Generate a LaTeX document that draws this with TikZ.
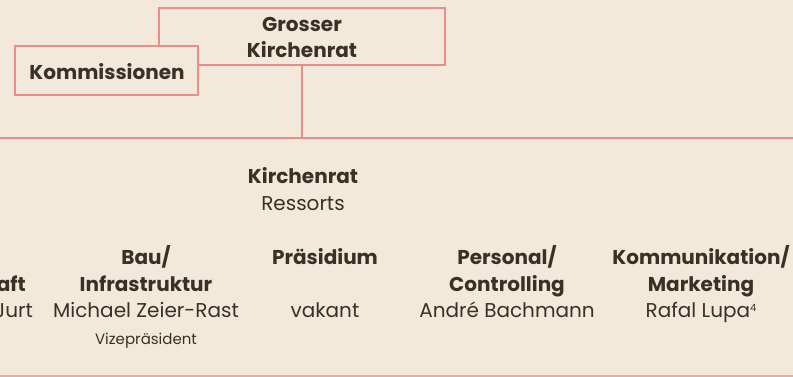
\documentclass[tikz,border=0pt]{standalone}
\usepackage{fontspec}
\setmainfont{Poppins}
\definecolor{bg}{HTML}{F3E9DA}
\definecolor{pinkline}{HTML}{EE8C8C}
\definecolor{ink}{HTML}{3B2F26}
\tikzset{
  hd/.style={anchor=base, inner sep=0pt, text=ink, font=\fontsize{20}{24}\selectfont\bfseries},
  nm/.style={anchor=base, inner sep=0pt, text=ink, font=\fontsize{20}{24}\selectfont},
  sm/.style={anchor=base, inner sep=0pt, text=ink, font=\fontsize{15}{18}\selectfont},
  ln/.style={draw=pinkline, line width=2.6pt},
}
\newcommand{\supfour}{\raisebox{6pt}{\fontsize{10}{12}\selectfont 4}}
\begin{document}
\begin{tikzpicture}[x=1pt, y=-1pt]
\fill[bg] (0,0) rectangle (793,376);
\useasboundingbox (0,0) rectangle (793,376);
% boxes
\node[ln, minimum width=286pt, minimum height=57pt, inner sep=0pt] (gkr) at (302,36.5) {};
\node[ln, fill=bg, minimum width=183pt, minimum height=49pt, inner sep=0pt] (kom) at (106.5,70.5) {};
\node[hd] (gkrA) at (302,31) {Grosser};
\node[hd] (gkrB) at (302,57) {Kirchenrat};
\node[hd] (komT) at (107,79) {Kommissionen};
% connectors
\coordinate (bar) at (302,138);
\coordinate (barL) at (0,138);
\coordinate (barR) at (793,138);
\coordinate (botL) at (0,376);
\coordinate (botR) at (793,376);
\draw[ln] (gkr.south) -- (bar);
\draw[ln] (barL) -- (barR);
\draw[draw=pinkline!70!bg, line width=2pt] (botL) -- (botR);
% Kirchenrat Ressorts
\node[hd] (kr) at (303,183) {Kirchenrat};
\node[nm] (res) at (303,210) {Ressorts};
% left cut column
\node[hd, anchor=base east] (c0a) at (26,291) {aft};
\node[nm, anchor=base east] (c0b) at (33,317) {Jurt};
% Bau
\node[hd] (c1a) at (146,264) {Bau/};
\node[hd] (c1b) at (146,291) {Infrastruktur};
\node[nm] (c1c) at (146,317) {Michael Zeier-Rast};
\node[sm] (c1d) at (146,344) {Vizepräsident};
% Praesidium
\node[hd] (c2a) at (325,264) {Präsidium};
\node[nm] (c2c) at (325,317) {vakant};
% Personal
\node[hd] (c3a) at (507,264) {Personal/};
\node[hd] (c3b) at (507,291) {Controlling};
\node[nm] (c3c) at (507,317) {André Bachmann};
% Kommunikation
\node[hd] (c4a) at (701,264) {Kommunikation/};
\node[hd] (c4b) at (701,291) {Marketing};
\node[nm] (c4c) at (701,317) {Rafal Lupa\supfour};
\end{tikzpicture}
\end{document}
